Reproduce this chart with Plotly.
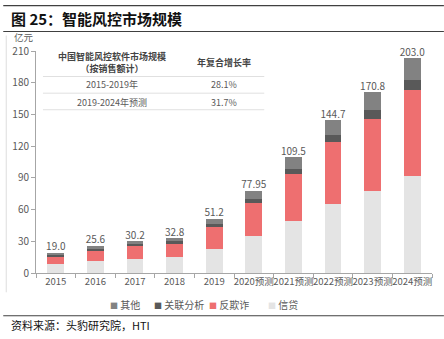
import plotly.graph_objects as go

categories = ["2015", "2016", "2017", "2018", "2019",
              "2020预测", "2021预测", "2022预测", "2023预测", "2024预测"]
credit = [8.9, 11.4, 13.6, 14.8, 23.1, 35.0, 49.2, 65.7, 77.3, 91.8]       # 信贷
antifraud = [6.9, 10.2, 12.3, 13.3, 20.8, 31.6, 44.2, 58.3, 68.1, 81.7]    # 反欺诈
relation = [1.5, 1.5, 1.6, 1.8, 2.5, 3.8, 5.4, 6.3, 8.5, 9.5]              # 关联分析
other = [1.7, 2.5, 2.7, 2.9, 4.8, 7.55, 10.7, 14.4, 16.9, 20.0]            # 其他
totals = [19.0, 25.6, 30.2, 32.8, 51.2, 77.95, 109.5, 144.7, 170.8, 203.0]
total_labels = ["19.0", "25.6", "30.2", "32.8", "51.2", "77.95", "109.5", "144.7", "170.8", "203.0"]
y_ticks = [0, 30, 60, 90, 120, 150, 180, 210]

table_header = ["中国智能风控软件市场规模<br>（按销售额计）", "年复合增长率"]
table_rows = [["2015-2019年", "28.1%"], ["2019-2024年预测", "31.7%"]]

W, H = 444, 339
L, R = 33, 432
TOP, BOT = 50.5, 272.7
FONT = "Noto Sans CJK SC"
GRAY = "#595959"

def px(x):
    return (x - L) / (R - L)

def py(y):
    return (BOT - y) / (BOT - TOP)

fig = go.Figure()
series = [("信贷", credit, "#e4e4e4"), ("反欺诈", antifraud, "#ee6f70"),
          ("关联分析", relation, "#595959"), ("其他", other, "#828282")]
for name, vals, col in series:
    fig.add_trace(go.Bar(x=categories, y=vals, name=name, marker_color=col,
                         marker_line_width=0, showlegend=False))

fig.add_trace(go.Scatter(x=categories, y=totals, mode="text", text=total_labels,
                         textposition="top center", showlegend=False, cliponaxis=False,
                         textfont=dict(size=10, color=GRAY, family=FONT),
                         hoverinfo="skip"))

shapes = []
for yy in (5, 31, 315.5):
    shapes.append(dict(type="line", xref="paper", yref="paper",
                       x0=px(0), x1=px(W), y0=py(yy), y1=py(yy),
                       line=dict(color="#404040", width=1.2)))
shapes.append(dict(type="line", xref="paper", yref="paper",
                   x0=px(3), x1=px(3), y0=py(35), y1=py(292),
                   line=dict(color="#dddddd", width=1)))
for yy in (76, 92.7, 109.3):
    shapes.append(dict(type="line", xref="paper", yref="paper",
                       x0=px(40), x1=px(263), y0=py(yy), y1=py(yy),
                       line=dict(color="#e0e0e0", width=1)))

annotations = [
    dict(text="<b>图 25：智能风控市场规模</b>", xref="paper", yref="paper",
         x=px(6), y=py(17.5), xanchor="left", yanchor="middle", showarrow=False,
         font=dict(size=15, color="#111111", family=FONT)),
    dict(text="亿元", xref="paper", yref="paper", x=px(9), y=py(36.5),
         xanchor="left", yanchor="middle", showarrow=False,
         font=dict(size=9.5, color=GRAY, family=FONT)),
    dict(text="资料来源：头豹研究院，HTI", xref="paper", yref="paper",
         x=px(6), y=py(325), xanchor="left", yanchor="middle", showarrow=False,
         font=dict(size=11, color="#111111", family=FONT)),
    dict(text="<b>" + table_header[0] + "</b>", xref="paper", yref="paper", x=px(110), y=py(62),
         xanchor="center", yanchor="middle", showarrow=False,
         font=dict(size=9, color="#444444", family=FONT)),
    dict(text="<b>" + table_header[1] + "</b>", xref="paper", yref="paper", x=px(222), y=py(62),
         xanchor="center", yanchor="middle", showarrow=False,
         font=dict(size=9, color="#444444", family=FONT)),
]
for i, row in enumerate(table_rows):
    yy = 84.3 + i * 17.4
    annotations.append(dict(text=row[0], xref="paper", yref="paper", x=px(110), y=py(yy),
                            xanchor="center", yanchor="middle", showarrow=False,
                            font=dict(size=9, color=GRAY, family=FONT)))
    annotations.append(dict(text=row[1], xref="paper", yref="paper", x=px(222), y=py(yy),
                            xanchor="center", yanchor="middle", showarrow=False,
                            font=dict(size=9, color=GRAY, family=FONT)))

# legend (order: 其他, 关联分析, 反欺诈, 信贷)
legend_x = {"其他": 106, "关联分析": 150, "反欺诈": 205, "信贷": 265}
for name, vals, col in reversed(series):
    annotations.append(dict(
        text=f'<span style="color:{col};font-size:8px">■</span> {name}',
        xref="paper", yref="paper", x=px(legend_x[name]), y=py(304),
        xanchor="left", yanchor="middle", showarrow=False,
        font=dict(size=10, color=GRAY, family=FONT)))

fig.update_layout(
    width=W, height=H,
    margin=dict(l=L, r=W - R, t=TOP, b=H - BOT),
    paper_bgcolor="white", plot_bgcolor="white",
    barmode="stack", bargap=0.58,
    font=dict(family=FONT, size=10, color=GRAY),
    showlegend=False,
    shapes=shapes, annotations=annotations,
    xaxis=dict(type="category", showline=True, linecolor="#a6a6a6", linewidth=1,
               ticks="outside", tickson="boundaries", ticklen=4, tickcolor="#a6a6a6",
               tickangle=0, tickfont=dict(size=9.5, color=GRAY), showgrid=False,
               fixedrange=True),
    yaxis=dict(range=[0, 210], tickvals=y_ticks, showline=True, linecolor="#a6a6a6",
               linewidth=1, ticks="outside", ticklen=4, tickcolor="#a6a6a6",
               tickfont=dict(size=10, color=GRAY), showgrid=False, zeroline=False,
               fixedrange=True),
)

fig.write_html("out.html")
